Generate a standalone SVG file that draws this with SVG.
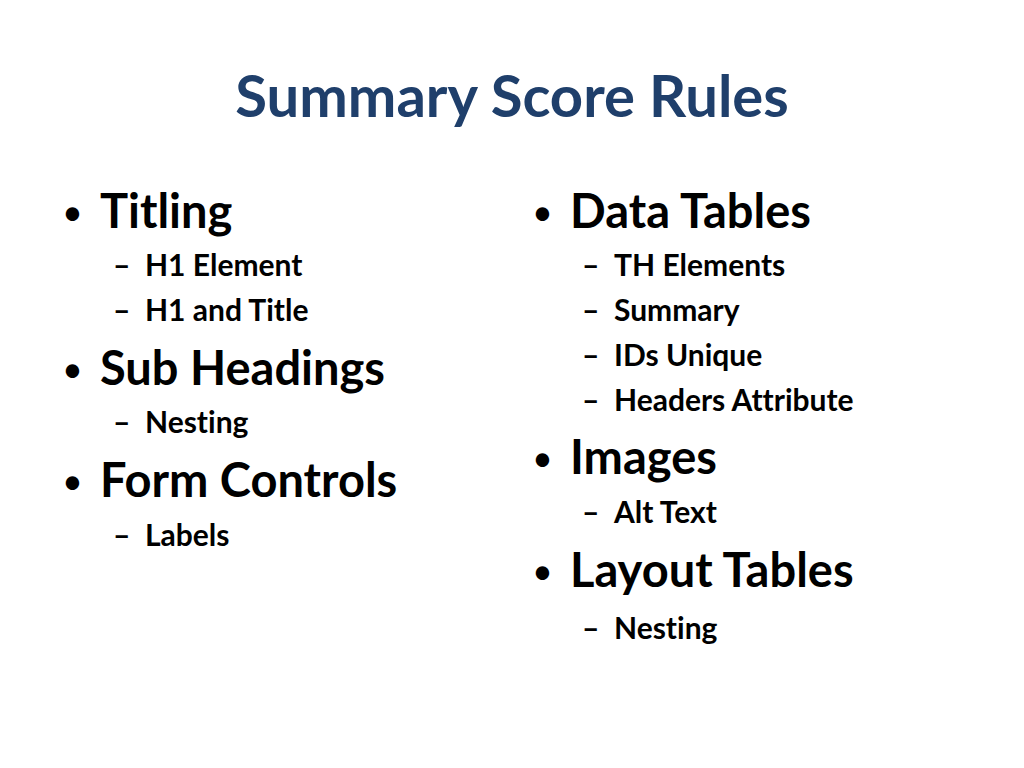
<svg xmlns="http://www.w3.org/2000/svg" width="1024" height="768" viewBox="0 0 1024 768">
<style>
text{font-family:Lato,"Liberation Sans",sans-serif;font-weight:bold;fill:#000;font-variant-ligatures:none}
.t{font-size:58px;fill:#1F3F6B}
.b{font-size:47px}
.d{font-size:36px;font-weight:normal}
.s{font-size:30px}
</style>
<rect width="1024" height="768" fill="#fff"/>
<text class="t" x="512" y="117" text-anchor="middle">Summary Score Rules</text>
<g id="left">
<text class="d" x="62" y="225">•</text><text class="b" x="100" y="228">Titling</text>
<text class="s" x="113" y="276">–</text><text class="s" x="145" y="276">H1 Element</text>
<text class="s" x="113" y="321">–</text><text class="s" x="145" y="321">H1 and Title</text>
<text class="d" x="62" y="382">•</text><text class="b" x="100" y="385">Sub Headings</text>
<text class="s" x="113" y="433">–</text><text class="s" x="145" y="433">Nesting</text>
<text class="d" x="62" y="494">•</text><text class="b" x="100" y="497">Form Controls</text>
<text class="s" x="113" y="546">–</text><text class="s" x="145" y="546">Labels</text>
</g>
<g id="right">
<text class="d" x="532" y="225">•</text><text class="b" x="570" y="228">Data Tables</text>
<text class="s" x="582" y="276">–</text><text class="s" x="614" y="276">TH Elements</text>
<text class="s" x="582" y="321">–</text><text class="s" x="614" y="321">Summary</text>
<text class="s" x="582" y="366">–</text><text class="s" x="614" y="366">IDs Unique</text>
<text class="s" x="582" y="411">–</text><text class="s" x="614" y="411">Headers Attribute</text>
<text class="d" x="532" y="471">•</text><text class="b" x="570" y="474">Images</text>
<text class="s" x="582" y="523">–</text><text class="s" x="614" y="523">Alt Text</text>
<text class="d" x="532" y="584">•</text><text class="b" x="570" y="587">Layout Tables</text>
<text class="s" x="582" y="639">–</text><text class="s" x="614" y="639">Nesting</text>
</g>
</svg>
